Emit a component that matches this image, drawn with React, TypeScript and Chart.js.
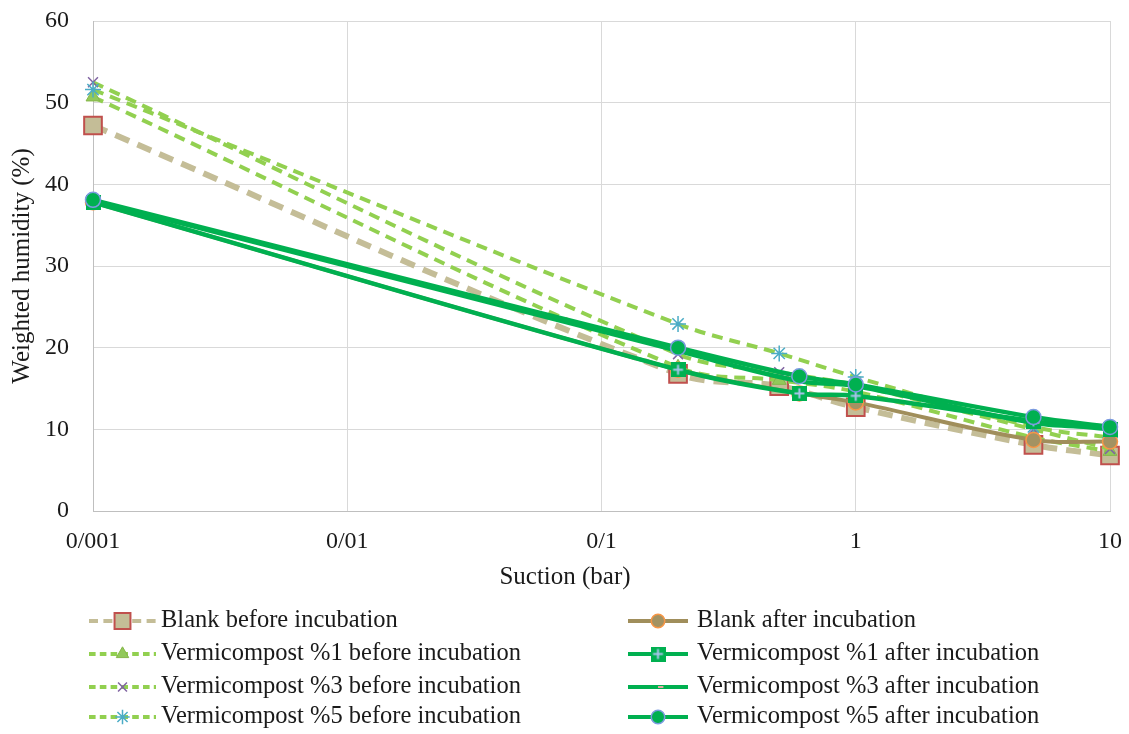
import React, { useEffect, useRef } from 'react';
import { Chart, registerables } from 'chart.js';
import { drawPoint } from 'chart.js/helpers';

Chart.register(...registerables);

// ---- data ----
const suctionBefore = [0.001, 0.2, 0.5, 1, 5, 10];
const suctionAfter = [0.001, 0.2, 0.6, 1, 5, 10];

const blankBefore = [47.2, 16.8, 15.3, 12.7, 8.1, 6.8];
const vc1Before = [50.7, 17.6, 16.0, 14.6, 9.0, 7.3];
const vc3Before = [52.5, 19.2, 17.0, 15.4, 10.0, 7.6];
const vc5Before = [51.6, 22.9, 19.3, 16.4, 10.3, 9.0];

const blankAfter = [37.8, 17.3, 14.4, 13.3, 8.7, 8.5];
const vc1After = [37.8, 17.3, 14.4, 14.1, 11.0, 10.0];
const vc3After = [38.0, 19.6, 15.9, 15.3, 10.8, 10.2];
const vc5After = [38.1, 20.0, 16.5, 15.5, 11.5, 10.3];

const seriesLabels = [
  'Blank before incubation',
  'Vermicompost %1 before incubation',
  'Vermicompost %3 before incubation',
  'Vermicompost %5 before incubation',
  'Blank after incubation',
  'Vermicompost %1 after incubation',
  'Vermicompost %3 after incubation',
  'Vermicompost %5 after incubation',
];

const xTickValues = [0.001, 0.01, 0.1, 1, 10];
const xTickLabels = ['0/001', '0/01', '0/1', '1', '10'];
const yTitle = 'Weighted humidity (%)';
const xTitle = 'Suction (bar)';

const FONT = '"Times New Roman", "Liberation Serif", serif';
const TEXT = '#1a1a1a';

function pts(xs: number[], ys: number[]) {
  return xs.map((x, i) => ({ x, y: ys[i] }));
}

function makePlusSquare(): HTMLCanvasElement {
  const c = document.createElement('canvas');
  c.width = 15;
  c.height = 15;
  const g = c.getContext('2d')!;
  g.fillStyle = '#00B050';
  g.fillRect(0, 0, 15, 15);
  g.strokeStyle = '#A9C4EB';
  g.lineWidth = 2;
  g.beginPath();
  g.moveTo(7.5, 2.5);
  g.lineTo(7.5, 12.5);
  g.moveTo(2.5, 7.5);
  g.lineTo(12.5, 7.5);
  g.stroke();
  return c;
}

const legendPlugin = {
  id: 'customLegend',
  afterDraw(chart: any) {
    const ctx: CanvasRenderingContext2D = chart.ctx;
    const area = chart.chartArea;
    ctx.save();
    // x axis title
    ctx.font = `25px ${FONT}`;
    ctx.fillStyle = TEXT;
    ctx.textAlign = 'center';
    ctx.textBaseline = 'middle';
    ctx.fillText(xTitle, area.left + 472, area.bottom + 66);

    const rows = [110, 143, 176, 206].map((d) => area.bottom + d);
    const cols = [
      { x0: area.left - 4, x1: area.left + 63, tx: area.left + 68 },
      { x0: area.left + 535, x1: area.left + 595, tx: area.left + 604 },
    ];
    chart.data.datasets.forEach((ds: any, i: number) => {
      const col = cols[i < 4 ? 0 : 1];
      const y = rows[i % 4];
      ctx.save();
      ctx.strokeStyle = ds.borderColor;
      ctx.lineWidth = Math.min(ds.borderWidth, 4);
      ctx.setLineDash(ds.borderDash ? ds.borderDash.map((v: number) => v * 0.6) : []);
      ctx.beginPath();
      ctx.moveTo(col.x0, y);
      ctx.lineTo(col.x1, y);
      ctx.stroke();
      ctx.setLineDash([]);
      ctx.fillStyle = ds.pointBackgroundColor;
      ctx.strokeStyle = ds.pointBorderColor;
      ctx.lineWidth = ds.pointBorderWidth;
      drawPoint(ctx, {
        pointStyle: ds.pointStyle,
        radius: ds.pointRadius * 0.9,
        rotation: 0,
        borderWidth: ds.pointBorderWidth,
      } as any, (col.x0 + col.x1) / 2, y);
      ctx.restore();
      ctx.font = `24.5px ${FONT}`;
      ctx.fillStyle = TEXT;
      ctx.textAlign = 'left';
      ctx.textBaseline = 'middle';
      ctx.fillText(seriesLabels[i], col.tx, y);
    });
    ctx.restore();
  },
};

export default function App() {
  const ref = useRef<HTMLCanvasElement>(null);
  useEffect(() => {
    document.body.style.margin = '0';
    const plusSquare = makePlusSquare();
    const beforeGreen = '#92D050';
    const afterGreen = '#00B050';
    const datasets: any[] = [
      {
        data: pts(suctionBefore, blankBefore),
        borderColor: '#C4BD97',
        borderWidth: 6,
        borderDash: [15, 9],
        pointStyle: 'rect',
        pointRadius: 12.5,
        pointBackgroundColor: '#C4BD97',
        pointBorderColor: '#C0504D',
        pointBorderWidth: 2,
      },
      {
        data: pts(suctionBefore, vc1Before),
        borderColor: beforeGreen,
        borderWidth: 4,
        borderDash: [11, 7],
        pointStyle: 'triangle',
        pointRadius: 8,
        pointBackgroundColor: '#92C95A',
        pointBorderColor: '#86B64A',
        pointBorderWidth: 1,
      },
      {
        data: pts(suctionBefore, vc3Before),
        borderColor: beforeGreen,
        borderWidth: 4,
        borderDash: [11, 7],
        pointStyle: 'crossRot',
        pointRadius: 7,
        pointBackgroundColor: '#8064A2',
        pointBorderColor: '#8064A2',
        pointBorderWidth: 1.5,
      },
      {
        data: pts(suctionBefore, vc5Before),
        borderColor: beforeGreen,
        borderWidth: 4,
        borderDash: [11, 7],
        pointStyle: 'star',
        pointRadius: 8,
        pointBackgroundColor: '#4BACC6',
        pointBorderColor: '#4BACC6',
        pointBorderWidth: 1.5,
      },
      {
        data: pts(suctionAfter, blankAfter),
        borderColor: '#A08E5B',
        borderWidth: 4,
        pointStyle: 'circle',
        pointRadius: 7.5,
        pointBackgroundColor: '#A39262',
        pointBorderColor: '#F79646',
        pointBorderWidth: 1.5,
      },
      {
        data: pts(suctionAfter, vc1After),
        borderColor: afterGreen,
        borderWidth: 4.5,
        pointStyle: plusSquare,
        pointRadius: 8,
        pointBackgroundColor: afterGreen,
        pointBorderColor: '#A9C4EB',
        pointBorderWidth: 1,
      },
      {
        data: pts(suctionAfter, vc3After),
        borderColor: afterGreen,
        borderWidth: 4.5,
        pointStyle: 'dash',
        pointRadius: 6,
        pointBackgroundColor: '#E3A7A0',
        pointBorderColor: '#E3A7A0',
        pointBorderWidth: 2,
      },
      {
        data: pts(suctionAfter, vc5After),
        borderColor: afterGreen,
        borderWidth: 4.5,
        pointStyle: 'circle',
        pointRadius: 7.5,
        pointBackgroundColor: afterGreen,
        pointBorderColor: '#7B9BE0',
        pointBorderWidth: 1.5,
      },
    ].map((d, i) => ({
      ...d,
      label: seriesLabels[i],
      order: 7 - i,
      tension: 0.35,
      fill: false,
      clip: false,
      pointHoverRadius: d.pointRadius,
    }));

    const chart = new Chart(ref.current!, {
      type: 'line',
      data: { datasets },
      plugins: [legendPlugin],
      options: {
        responsive: false,
        animation: false,
        devicePixelRatio: 1,
        layout: { padding: { top: 21, right: 19, left: 0, bottom: 0 } },
        plugins: {
          legend: { display: false },
          tooltip: { enabled: false },
        },
        scales: {
          x: {
            type: 'logarithmic',
            min: 0.001,
            max: 10,
            afterBuildTicks: (s: any) => {
              s.ticks = xTickValues.map((v) => ({ value: v }));
            },
            afterFit: (s: any) => {
              s.height = 223;
              s.paddingLeft = 0;
              s.paddingRight = 0;
            },
            ticks: {
              autoSkip: false,
              maxRotation: 0,
              padding: 16,
              color: TEXT,
              font: { family: FONT, size: 24 },
              callback: (_v: any, i: number) => xTickLabels[i],
            },
            grid: { color: '#D9D9D9', lineWidth: 1, drawTicks: false },
            border: { color: '#BFBFBF', width: 1 },
          },
          y: {
            type: 'linear',
            min: 0,
            max: 60,
            afterFit: (s: any) => {
              s.width = 93;
              s.paddingTop = 0;
              s.paddingBottom = 0;
            },
            ticks: {
              stepSize: 10,
              padding: 24,
              color: TEXT,
              font: { family: FONT, size: 24 },
            },
            grid: { color: '#D9D9D9', lineWidth: 1, drawTicks: false },
            border: { color: '#BFBFBF', width: 1 },
            title: {
              display: true,
              text: yTitle,
              color: TEXT,
              font: { family: FONT, size: 25 },
              padding: { top: 7, bottom: 0 },
            },
          },
        },
      } as any,
    });
    return () => chart.destroy();
  }, []);

  return (
    <div style={{ width: 1129, height: 734 }}>
      <canvas ref={ref} width={1129} height={734} style={{ display: 'block' }} />
    </div>
  );
}
